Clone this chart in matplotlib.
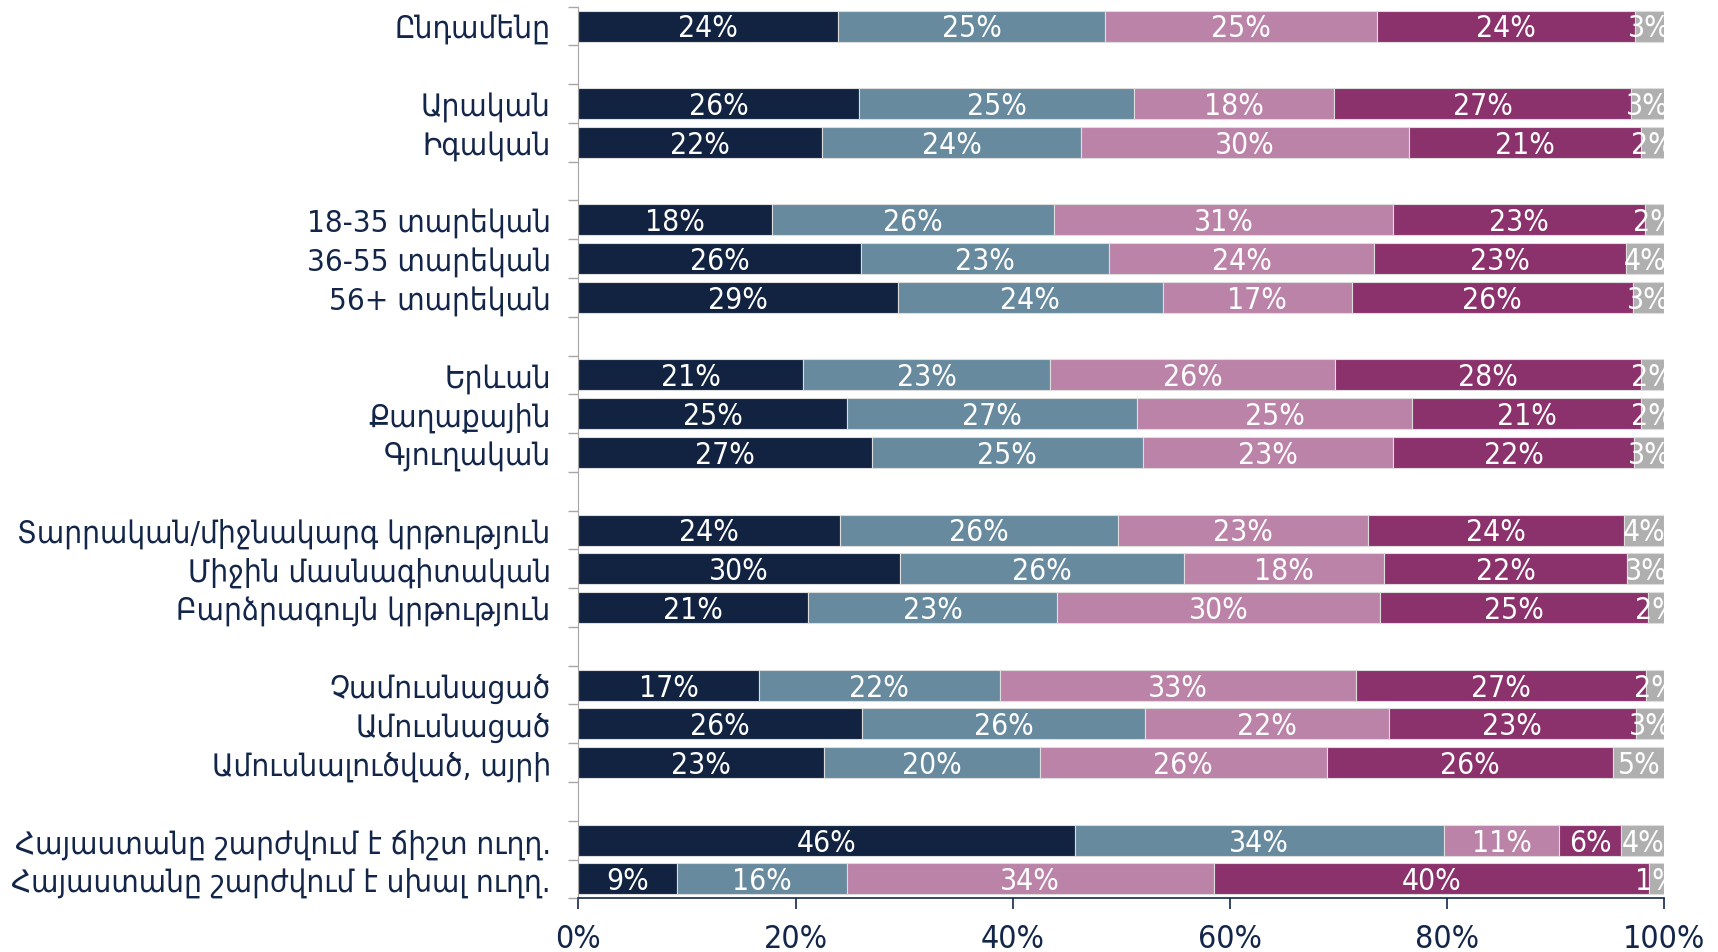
import matplotlib
matplotlib.use("Agg")
import matplotlib.pyplot as plt
import numpy as np
from matplotlib.ticker import FixedLocator, PercentFormatter

plt.rcParams['font.family'] = ['DejaVu Sans']
plt.rcParams['font.stretch'] = 'condensed'

categories = [
    "Ընդամենը",
    "Արական", "Իգական",
    "18-35 տարեկան", "36-55 տարեկան", "56+ տարեկան",
    "Երևան", "Քաղաքային", "Գյուղական",
    "Տարրական/միջնակարգ կրթություն", "Միջին մասնագիտական", "Բարձրագույն կրթություն",
    "Չամուսնացած", "Ամուսնացած", "Ամուսնալուծված, այրի",
    "Հայաստանը շարժվում է ճիշտ ուղղ.", "Հայաստանը շարժվում է սխալ ուղղ.",
]
group_sizes = [1, 2, 3, 3, 3, 3, 2]

s1 = [23.9, 25.8, 22.4, 17.8, 26.0, 29.4, 20.7, 24.7, 27.0, 24.1, 29.6, 21.1, 16.6, 26.1, 22.6, 45.7, 9.1]
s2 = [24.6, 25.4, 23.9, 26.0, 22.9, 24.4, 22.7, 26.7, 25.0, 25.6, 26.2, 23.0, 22.2, 26.1, 19.9, 34.0, 15.6]
s3 = [25.0, 18.4, 30.2, 31.2, 24.4, 17.4, 26.3, 25.4, 23.0, 23.0, 18.4, 29.7, 32.8, 22.4, 26.4, 10.6, 33.8]
s4 = [23.8, 27.3, 21.3, 23.2, 23.2, 25.9, 28.1, 21.0, 22.2, 23.6, 22.4, 24.7, 26.7, 22.8, 26.4, 5.7, 40.1]
s5 = [2.7, 3.1, 2.2, 1.8, 3.5, 2.9, 2.2, 2.2, 2.8, 3.7, 3.4, 1.5, 1.7, 2.6, 4.7, 4.0, 1.4]

series = [s1, s2, s3, s4, s5]
colors = ["#112340", "#678A9E", "#BB83A8", "#8B316C", "#AFAFAF"]
navy = "#13264A"

# positions with an empty slot between groups
pos = []
p = 0
for g in group_sizes:
    for i in range(g):
        pos.append(p)
        p += 1
    p += 1
pos = np.array(pos)
nslots = p - 1

fig = plt.figure(figsize=(17.18, 9.53), dpi=100)
ax = fig.add_axes([0.3367, 0.0563, 0.6321, 0.9357])

left = np.zeros(len(categories))
for vals, c in zip(series, colors):
    vals = np.array(vals)
    bars = ax.barh(pos, vals, left=left, height=0.8, color=c,
                   edgecolor="#DDDDDD", linewidth=0.8)
    for b, v in zip(bars, vals):
        ax.text(b.get_x() + b.get_width() / 2, b.get_y() + b.get_height() / 2 + 0.05,
                f"{v:.0f}%", ha="center", va="center", color="white", fontsize=21.5)
    left += vals

ax.set_xlim(0, 100)
ax.set_ylim(nslots - 0.5, -0.5)

ax.set_yticks(pos)
ax.set_yticklabels(categories, fontsize=22.5, color=navy)
ax.tick_params(axis="y", which="major", length=0, pad=20)
ax.yaxis.set_minor_locator(FixedLocator(np.arange(-0.5, nslots + 0.5, 1)))
ax.tick_params(axis="y", which="minor", length=7, color="#A6A6A6", width=1)

ax.set_xticks(np.arange(0, 101, 20))
ax.xaxis.set_major_formatter(PercentFormatter(decimals=0))
ax.tick_params(axis="x", length=8, width=1.2, color=navy, labelsize=23,
               labelcolor=navy, pad=10)

for s in ["top", "right"]:
    ax.spines[s].set_visible(False)
ax.spines["left"].set_color("#A6A6A6")
ax.spines["bottom"].set_color(navy)
ax.spines["bottom"].set_linewidth(1.2)

fig.savefig("out.png", dpi=100)
